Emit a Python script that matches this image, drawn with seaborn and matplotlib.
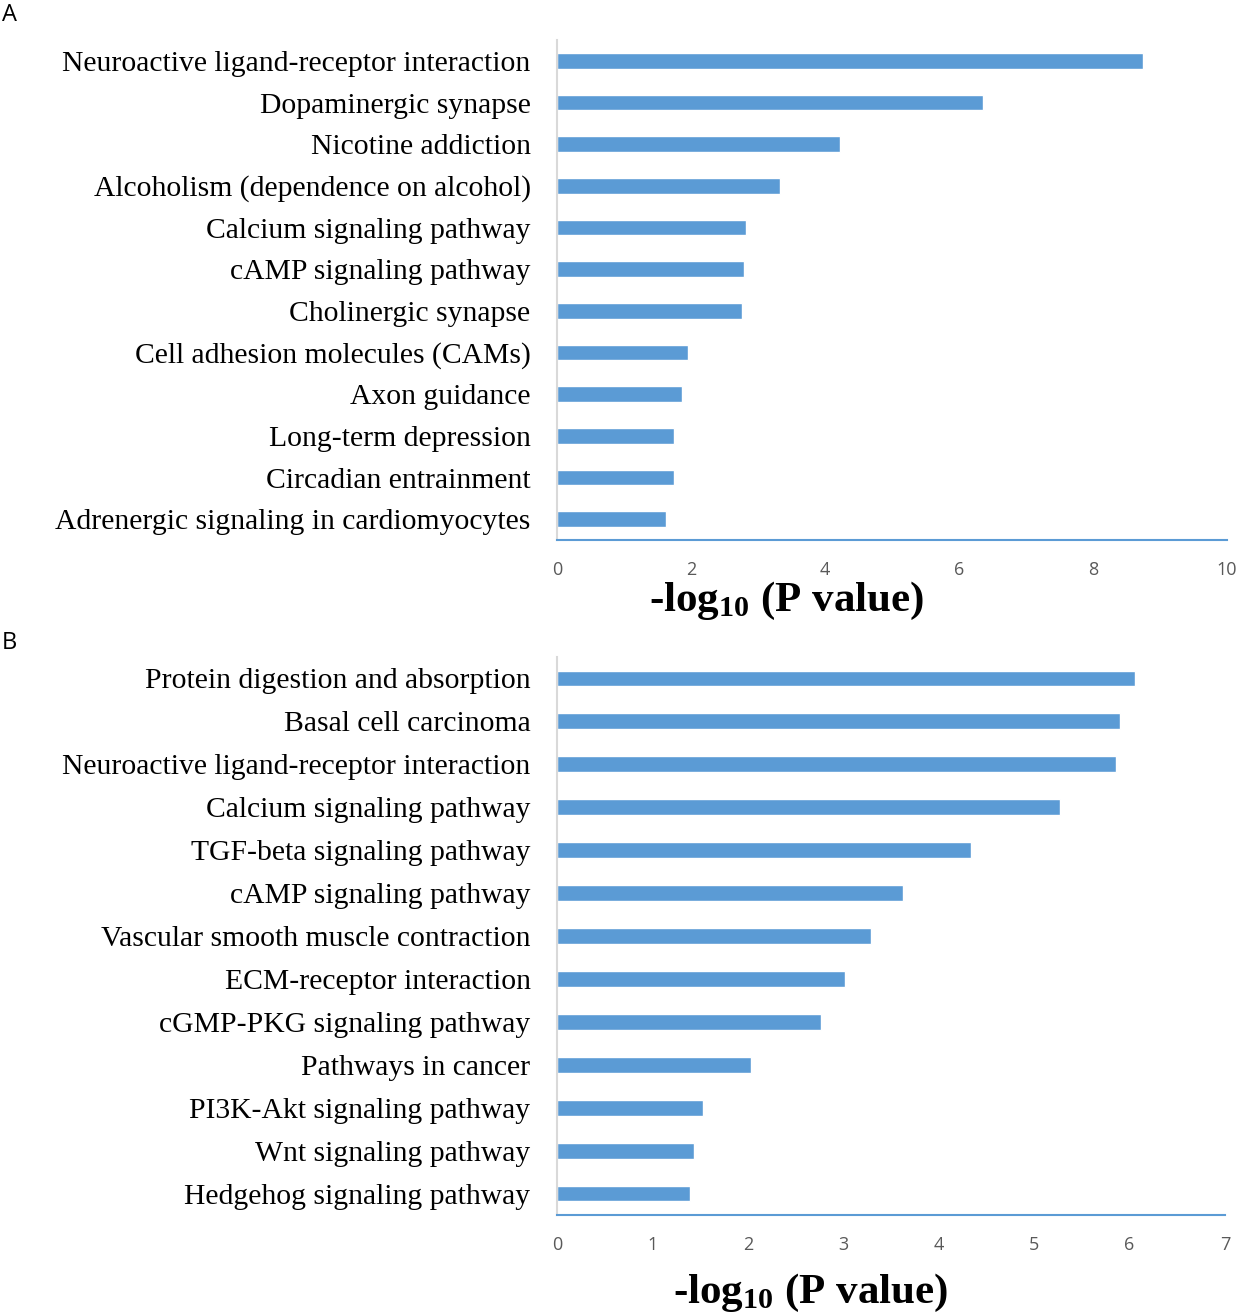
import matplotlib
matplotlib.use('Agg')
import matplotlib.pyplot as plt
import seaborn as sns
import pandas as pd

# Panel A: KEGG pathways
pathways_a = [
    'Neuroactive ligand-receptor interaction', 'Dopaminergic synapse',
    'Nicotine addiction', 'Alcoholism (dependence on alcohol)',
    'Calcium signaling pathway', 'cAMP signaling pathway',
    'Cholinergic synapse', 'Cell adhesion molecules (CAMs)',
    'Axon guidance', 'Long-term depression', 'Circadian entrainment',
    'Adrenergic signaling in cardiomyocytes',
]
logp_a = [8.75, 6.36, 4.22, 3.33, 2.82, 2.79, 2.76, 1.96, 1.87, 1.75, 1.75, 1.63]
ticks_a = [0, 2, 4, 6, 8, 10]

# Panel B
pathways_b = [
    'Protein digestion and absorption', 'Basal cell carcinoma',
    'Neuroactive ligand-receptor interaction', 'Calcium signaling pathway',
    'TGF-beta signaling pathway', 'cAMP signaling pathway',
    'Vascular smooth muscle contraction', 'ECM-receptor interaction',
    'cGMP-PKG signaling pathway', 'Pathways in cancer',
    'PI3K-Akt signaling pathway', 'Wnt signaling pathway',
    'Hedgehog signaling pathway',
]
logp_b = [6.06, 5.90, 5.86, 5.27, 4.34, 3.63, 3.29, 3.02, 2.77, 2.03, 1.53, 1.44, 1.39]
ticks_b = [0, 1, 2, 3, 4, 5, 6, 7]

sns.set_style('white')
plt.rcParams['mathtext.fontset'] = 'custom'
plt.rcParams['mathtext.rm'] = 'Liberation Serif:bold'
plt.rcParams['mathtext.bf'] = 'Liberation Serif:bold'
plt.rcParams['mathtext.default'] = 'bf'

BAR = '#5B9BD5'
fig = plt.figure(figsize=(12.38, 13.15), dpi=100)

W, H = 1238, 1315
panels = [
    (pathways_a, logp_a, ticks_a, (557, 40, 1227, 540), 0.342, -0.122, 'A', 15),
    (pathways_b, logp_b, ticks_b, (557, 657, 1225, 1215), 0.379, -0.139, 'B', 643),
]

for cats, vals, ticks, (x0, y0, x1, y1), lx, ly, letter, ytxt in panels:
    ax = fig.add_axes([x0 / W, 1 - y1 / H, (x1 - x0) / W, (y1 - y0) / H])
    df = pd.DataFrame({'pathway': cats, 'value': vals})
    sns.barplot(data=df, y='pathway', x='value', orient='h', color=BAR,
                saturation=1, width=0.37, ax=ax)
    ax.set_xlim(ticks[0], ticks[-1])
    ax.set_xticks(ticks)
    ax.set_ylabel('')
    ax.set_xlabel('-log$_{10}$ (P value)', fontsize=31, fontweight='bold',
                  family='Liberation Serif', va='center', color='black')
    ax.xaxis.set_label_coords(lx, ly)
    ax.tick_params(axis='x', length=0, pad=15, labelsize=13, labelcolor='#595959')
    ax.tick_params(axis='y', length=0, pad=19, labelsize=21.3, labelcolor='black')
    for t in ax.get_xticklabels():
        t.set_family('Open Sans')
    for t in ax.get_yticklabels():
        t.set_family('Liberation Serif')
    for s in ['top', 'right']:
        ax.spines[s].set_visible(False)
    ax.spines['left'].set_color('#D9D9D9')
    ax.spines['left'].set_linewidth(1.5)
    ax.spines['bottom'].set_color(BAR)
    ax.spines['bottom'].set_linewidth(1.5)
    fig.text(2 / W, 1 - ytxt / H, letter, fontsize=17, family='Open Sans',
             va='center', ha='left', color='black')

fig.savefig('out.png', dpi=100)
